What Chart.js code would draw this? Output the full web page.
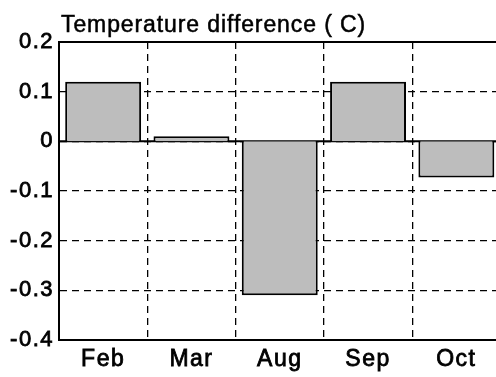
<!DOCTYPE html>
<html>
<head>
<meta charset="utf-8">
<script src="https://cdn.jsdelivr.net/npm/chart.js@4"></script>
<style>
  html, body { margin: 0; padding: 0; background: #fff; overflow: hidden; }
  #wrap { position: relative; width: 502px; height: 377px; }
  #title {
    position: absolute; left: 61px; top: 11px;
    font: 23px "Liberation Sans", Arial, sans-serif; letter-spacing: 0.9px; color: #000;
    -webkit-text-stroke: 0.5px #000;
  }
</style>
</head>
<body>
<div id="wrap">
  <div id="title">Temperature difference ( C)</div>
  <canvas id="chart"></canvas>
</div>
<script>
// data
const months = ['Feb', 'Mar', 'Aug', 'Sep', 'Oct'];
const tempDiff = [0.12, 0.01, -0.31, 0.12, -0.073];
const yMin = -0.4, yMax = 0.2, yStep = 0.1;

const family = '"Liberation Sans", Arial, sans-serif';

// solid zero line and top frame line (letter spacing is reset whenever the canvas resizes)
const framePlugin = {
    id: 'frame',
    beforeLayout(chart) { chart.ctx.letterSpacing = '1.5px'; },
    beforeDraw(chart) { chart.ctx.letterSpacing = '1.5px'; },
    beforeDatasetsDraw(chart) {
        const { ctx, chartArea } = chart;
        const y0 = chart.scales.y.getPixelForValue(0);
        ctx.save();
        ctx.strokeStyle = '#000';
        ctx.lineWidth = 2;
        ctx.beginPath();
        ctx.moveTo(chartArea.left, chartArea.top);
        ctx.lineTo(chartArea.right, chartArea.top);
        ctx.moveTo(chartArea.left, y0);
        ctx.lineTo(chartArea.right, y0);
        ctx.stroke();
        ctx.restore();
    }
};

new Chart(document.getElementById('chart'), {
    type: 'bar',
    data: {
        labels: months,
        datasets: [{
            data: tempDiff,
            backgroundColor: '#bdbdbd',
            borderColor: '#000',
            borderWidth: 2,
            barPercentage: 0.86,
            categoryPercentage: 1
        }]
    },
    options: {
        responsive: true,
        maintainAspectRatio: false,
        animation: false,
        layout: { padding: { top: 42, left: 0, right: 1.5, bottom: 0 } },
        plugins: { legend: { display: false }, tooltip: { enabled: false } },
        scales: {
            x: {
                grid: { offset: true, color: '#000', lineWidth: 1.3, drawTicks: false },
                border: { display: true, color: '#000', width: 2, dash: [7, 5] },
                ticks: {
                    color: '#000', font: { family: family, size: 23 }, padding: 6,
                    textStrokeColor: '#000', textStrokeWidth: 0.8
                },
                afterFit(scale) { scale.height = 37; }
            },
            y: {
                min: yMin,
                max: yMax,
                grid: { color: '#000', lineWidth: 1.3, drawTicks: false },
                border: { display: true, color: '#000', width: 2, dash: [7, 5] },
                ticks: {
                    stepSize: yStep,
                    color: '#000',
                    font: { family: family, size: 22 },
                    textStrokeColor: '#000', textStrokeWidth: 0.8,
                    padding: 5,
                    callback: v => String(Math.round(v * 10) / 10)
                },
                afterFit(scale) { scale.width = 59; }
            }
        }
    },
    plugins: [framePlugin]
});
</script>
</body>
</html>
